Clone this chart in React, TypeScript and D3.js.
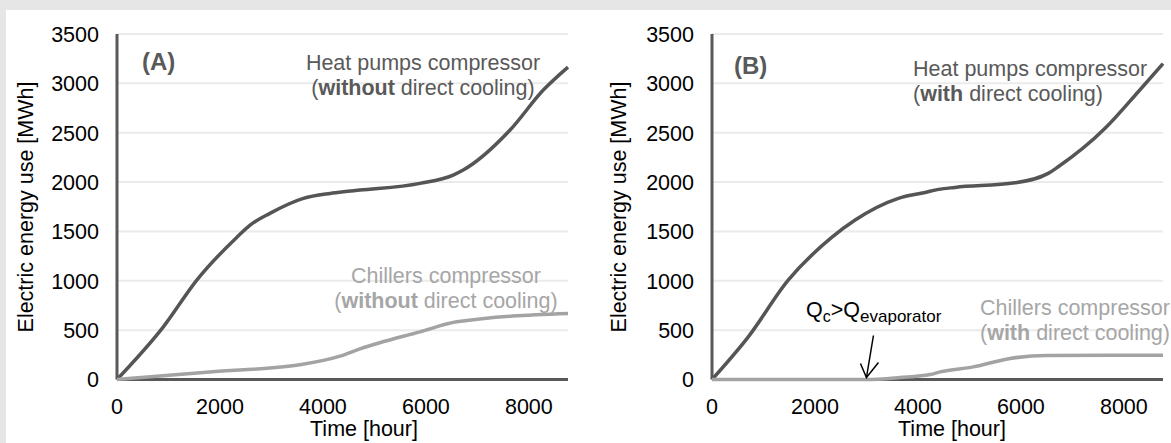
import React, { useEffect, useRef } from 'react';
import * as d3 from 'd3';

// hour of year -> cumulative electric energy [MWh]
const heatPumpsA: [number, number][] = [
  [0, 0], [900, 533], [1550, 1007], [2325, 1439], [2585, 1564], [2970, 1683],
  [3620, 1835], [4140, 1885], [4400, 1902], [4720, 1919], [5885, 1987],
  [6530, 2071], [6725, 2122], [7635, 2527], [8280, 2932], [8760, 3165],
];
const chillersA: [number, number][] = [
  [0, 0], [1800, 77], [3490, 145], [3555, 150], [4330, 236], [4720, 310],
  [5885, 483], [6600, 584], [8760, 669],
];
const heatPumpsB: [number, number][] = [
  [0, 0], [705, 432], [1480, 1006], [2325, 1439], [2780, 1615], [3620, 1835],
  [4140, 1895], [4400, 1926], [4720, 1946], [5885, 1993], [6530, 2088],
  [6725, 2155], [7635, 2544], [8280, 2915], [8760, 3200],
];
const chillersB: [number, number][] = [
  [0, 0], [3000, 0], [3650, 20], [4235, 50], [4430, 77], [5075, 128],
  [5790, 213], [6500, 243], [8760, 245],
];

const yTicks = [0, 500, 1000, 1500, 2000, 2500, 3000, 3500];
const xTicks = [0, 2000, 4000, 6000, 8000];

const FONT = 'Liberation Sans, Arial, sans-serif';
const DARK = '#595959';
const LIGHT = '#a6a6a6';

const panels = [
  {
    left: 117, letter: '(A)', heat: heatPumpsA, chill: chillersA, qual: 'without',
    letterX: 142, letterY: 70, heatX: 423, heatY: 70, heatAnchor: 'middle',
    chillX: 446, chillY: 283, chillAnchor: 'middle', titleX: 364, yTitleX: 25,
  },
  {
    left: 712, letter: '(B)', heat: heatPumpsB, chill: chillersB, qual: 'with',
    letterX: 734, letterY: 74, heatX: 913, heatY: 76, heatAnchor: 'start',
    chillX: 980, chillY: 315, chillAnchor: 'start', titleX: 952, yTitleX: 618,
  },
];

export default function App() {
  const ref = useRef<SVGSVGElement>(null);

  useEffect(() => {
    const svg = d3.select(ref.current);
    svg.selectAll('*').remove();

    svg.append('rect').attr('width', 1171).attr('height', 443).attr('fill', '#e6e6e6');
    svg.append('rect').attr('x', 6).attr('y', 10).attr('width', 1165).attr('height', 433).attr('fill', '#fff');

    panels.forEach((p) => {
      const x = d3.scaleLinear().domain([0, 8760]).range([p.left, p.left + 451]);
      const y = d3.scaleLinear().domain([0, 3500]).range([379.5, 34]);
      const g = svg.append('g').attr('font-family', FONT);

      g.selectAll('.grid')
        .data(yTicks.filter((d) => d > 0))
        .enter().append('line')
        .attr('x1', x(0)).attr('x2', x(8760))
        .attr('y1', (d) => y(d)).attr('y2', (d) => y(d))
        .attr('stroke', '#ebebeb').attr('stroke-width', 2);

      g.append('line')
        .attr('x1', x(0)).attr('x2', x(0)).attr('y1', y(0)).attr('y2', y(3500))
        .attr('stroke', DARK).attr('stroke-width', 3);
      g.append('line')
        .attr('x1', x(0)).attr('x2', x(8760)).attr('y1', y(0)).attr('y2', y(0))
        .attr('stroke', DARK).attr('stroke-width', 3);

      g.selectAll('.ytick')
        .data(yTicks)
        .enter().append('text')
        .attr('x', x(0) - 18).attr('y', (d) => y(d)).attr('dy', '0.37em')
        .attr('text-anchor', 'end').attr('font-size', 21.5).attr('fill', '#000')
        .text((d) => d);

      g.selectAll('.xtick')
        .data(xTicks)
        .enter().append('text')
        .attr('x', (d) => x(d)).attr('y', y(0) + 34)
        .attr('text-anchor', 'middle').attr('font-size', 21.5).attr('fill', '#000')
        .text((d) => d);

      g.append('text')
        .attr('x', p.titleX).attr('y', 436)
        .attr('text-anchor', 'middle').attr('font-size', 21.5).attr('fill', '#000')
        .text('Time [hour]');

      g.append('text')
        .attr('transform', `translate(${p.yTitleX},207) rotate(-90)`)
        .attr('dy', '0.35em')
        .attr('text-anchor', 'middle').attr('font-size', 21.5).attr('fill', '#000')
        .text('Electric energy use [MWh]');

      const line = d3.line<[number, number]>()
        .x((d) => x(d[0])).y((d) => y(d[1]))
        .curve(d3.curveMonotoneX);

      g.append('path').datum(p.heat).attr('d', line)
        .attr('fill', 'none').attr('stroke', '#555').attr('stroke-width', 3.5)
        .attr('stroke-linejoin', 'round');
      g.append('path').datum(p.chill).attr('d', line)
        .attr('fill', 'none').attr('stroke', '#a3a3a3').attr('stroke-width', 3.5)
        .attr('stroke-linejoin', 'round');

      g.append('text')
        .attr('x', p.letterX).attr('y', p.letterY)
        .attr('font-size', 24).attr('font-weight', 'bold').attr('fill', DARK)
        .text(p.letter);

      const label = (tx: number, ty: number, anchor: string, color: string, first: string) => {
        g.append('text')
          .attr('x', tx).attr('y', ty).attr('text-anchor', anchor)
          .attr('font-size', 21.5).attr('fill', color).text(first);
        const t = g.append('text')
          .attr('x', tx).attr('y', ty + 25).attr('text-anchor', anchor)
          .attr('font-size', 21.5).attr('fill', color);
        t.append('tspan').text('(');
        t.append('tspan').attr('font-weight', 'bold').text(p.qual);
        t.append('tspan').text(' direct cooling)');
      };
      label(p.heatX, p.heatY, p.heatAnchor, DARK, 'Heat pumps compressor');
      label(p.chillX, p.chillY, p.chillAnchor, LIGHT, 'Chillers compressor');

      if (p.letter === '(B)') {
        const q = g.append('text').attr('x', 806).attr('y', 317)
          .attr('font-size', 21.5).attr('fill', '#000');
        q.append('tspan').text('Q');
        q.append('tspan').attr('font-size', 16).attr('dy', 5).text('c');
        q.append('tspan').attr('dy', -5).text('>Q');
        q.append('tspan').attr('font-size', 17).attr('dy', 5).text('evaporator');

        const tipX = x(3000);
        const tipY = y(0) - 2;
        g.append('line')
          .attr('x1', tipX + 7).attr('y1', tipY - 42).attr('x2', tipX).attr('y2', tipY)
          .attr('stroke', '#000').attr('stroke-width', 1.5);
        g.append('path')
          .attr('d', `M${tipX - 6},${tipY - 14}L${tipX},${tipY}L${tipX + 12},${tipY - 15}`)
          .attr('fill', 'none').attr('stroke', '#000').attr('stroke-width', 1.5);
      }
    });
  }, []);

  return (
    <svg ref={ref} width={1171} height={443}
      style={{ position: 'absolute', left: 0, top: 0, display: 'block' }} />
  );
}
